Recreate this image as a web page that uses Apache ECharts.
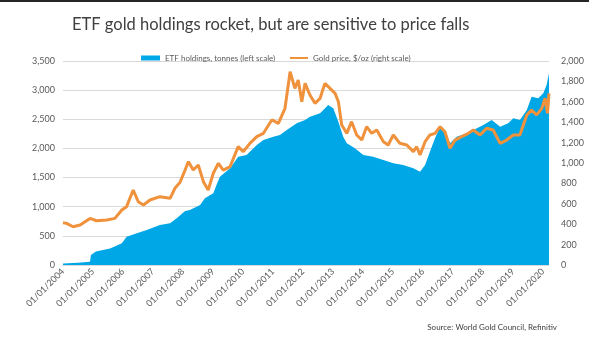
<!DOCTYPE html>
<html>
<head>
<meta charset="utf-8">
<script src="https://cdn.jsdelivr.net/npm/echarts@6/dist/echarts.min.js"></script>
<style>
  html, body { margin: 0; padding: 0; background: #ffffff; }
  #chart { width: 589px; height: 348px; }
</style>
</head>
<body>
<div id="chart"></div>
<script>
// ETF gold holdings (tonnes), dated as decimal years
const etfDates = [2004.0, 2004.5, 2004.9, 2004.93, 2005.1, 2005.57, 2005.96, 2006.12, 2006.46, 2006.79,
  2007.23, 2007.57, 2007.79, 2008.07, 2008.23, 2008.57, 2008.73, 2009.01, 2009.1, 2009.23,
  2009.57, 2009.84, 2010.12, 2010.46, 2010.68, 2011.01, 2011.23, 2011.46, 2011.79, 2012.07,
  2012.23, 2012.57, 2012.84, 2013.01, 2013.18, 2013.34, 2013.46, 2013.73, 2014.01, 2014.34,
  2014.68, 2015.01, 2015.34, 2015.68, 2015.9, 2015.95, 2016.07, 2016.23, 2016.4, 2016.57,
  2016.73, 2016.9, 2017.12, 2017.46, 2017.68, 2018.01, 2018.29, 2018.57, 2018.84, 2019.01,
  2019.23, 2019.46, 2019.62, 2019.84, 2020.01, 2020.12, 2020.2];
const etfTonnes = [25, 40, 57, 170, 230, 285, 372, 486, 544, 600,
  686, 715, 800, 926, 944, 1029, 1144, 1230, 1350, 1515,
  1659, 1859, 1887, 2059, 2145, 2201, 2230, 2316, 2430, 2488,
  2545, 2602, 2745, 2688, 2459, 2201, 2087, 2002, 1887, 1859,
  1801, 1745, 1716, 1659, 1601, 1580, 1716, 1944, 2173, 2373,
  2316, 2087, 2201, 2259, 2316, 2402, 2488, 2373, 2430, 2516,
  2488, 2659, 2888, 2860, 2945, 3088, 3289];

// Gold price ($/oz), dated as decimal years
const goldDates = [2004.0, 2004.12, 2004.34, 2004.57, 2004.9, 2005.12, 2005.46, 2005.73, 2005.96, 2006.12,
  2006.34, 2006.51, 2006.68, 2006.9, 2007.23, 2007.57, 2007.73, 2007.9, 2008.07, 2008.18,
  2008.34, 2008.51, 2008.68, 2008.84, 2009.01, 2009.18, 2009.34, 2009.57, 2009.84, 2010.01,
  2010.23, 2010.46, 2010.68, 2010.96, 2011.18, 2011.4, 2011.57, 2011.73, 2011.84, 2011.96,
  2012.07, 2012.23, 2012.4, 2012.57, 2012.73, 2012.9, 2013.07, 2013.18, 2013.29, 2013.46,
  2013.62, 2013.79, 2013.96, 2014.12, 2014.29, 2014.46, 2014.68, 2014.84, 2015.01, 2015.23,
  2015.46, 2015.68, 2015.79, 2015.9, 2016.07, 2016.23, 2016.4, 2016.57, 2016.73, 2016.9,
  2017.07, 2017.29, 2017.51, 2017.68, 2017.9, 2018.12, 2018.34, 2018.57, 2018.79, 2019.01,
  2019.23, 2019.46, 2019.62, 2019.79, 2019.96, 2020.07, 2020.15, 2020.2];
const goldPrice = [415, 408, 375, 392, 457, 434, 441, 457, 539, 572,
  735, 620, 588, 637, 670, 654, 752, 810, 931, 1013,
  931, 980, 817, 735, 900, 997, 931, 964, 1160, 1111,
  1193, 1258, 1291, 1422, 1389, 1536, 1895, 1732, 1814, 1601,
  1781, 1667, 1585, 1634, 1781, 1732, 1683, 1601, 1373, 1291,
  1405, 1275, 1225, 1356, 1291, 1324, 1209, 1176, 1275, 1193,
  1176, 1111, 1160, 1078, 1209, 1275, 1291, 1356, 1307, 1144,
  1225, 1258, 1291, 1324, 1275, 1340, 1324, 1193, 1225, 1275,
  1275, 1471, 1520, 1471, 1536, 1634, 1487, 1683];

const yearTicks = [2004, 2005, 2006, 2007, 2008, 2009, 2010, 2011, 2012, 2013,
  2014, 2015, 2016, 2017, 2018, 2019, 2020];

const etfName = 'ETF holdings, tonnes (left scale)';
const goldName = 'Gold price, $/oz (right scale)';
const FONT = "Lato, 'Open Sans', sans-serif";
const GREY = '#595959';

const chart = echarts.init(document.getElementById('chart'), null, { renderer: 'canvas' });

chart.setOption({
  animation: false,
  backgroundColor: '#ffffff',
  textStyle: { fontFamily: FONT },
  title: {
    text: 'ETF gold holdings rocket, but are sensitive to price falls',
    left: 67,
    top: 11,
    textStyle: { fontFamily: FONT, fontSize: 16.5, fontWeight: 'normal', color: '#404040' }
  },
  legend: [
    {
      data: [{ name: etfName, icon: 'rect' }],
      left: 136, top: 49,
      itemWidth: 19, itemHeight: 5,
      textStyle: { fontFamily: FONT, fontSize: 8, color: GREY }
    },
    {
      data: [{ name: goldName, icon: 'rect' }],
      left: 285, top: 49,
      itemWidth: 18, itemHeight: 2,
      textStyle: { fontFamily: FONT, fontSize: 8, color: GREY }
    }
  ],
  grid: { left: 63, right: 40, top: 61, bottom: 83, containLabel: false },
  xAxis: {
    type: 'value',
    min: 2004,
    max: 2020.2,
    interval: 1,
    axisLine: { show: true, lineStyle: { color: '#d9d9d9' } },
    axisTick: { show: false },
    splitLine: { show: false },
    axisLabel: {
      rotate: 45,
      margin: 5,
      fontFamily: FONT,
      fontSize: 9,
      color: GREY,
      showMaxLabel: false,
      formatter: function (v) {
        return yearTicks.indexOf(v) >= 0 ? '01/01/' + v : '';
      }
    }
  },
  yAxis: [
    {
      type: 'value',
      min: 0, max: 3500, interval: 500,
      axisLine: { show: false },
      axisTick: { show: false },
      splitLine: { lineStyle: { color: '#d9d9d9', width: 1 } },
      axisLabel: {
        margin: 8,
        fontFamily: FONT, fontSize: 9, color: GREY,
        formatter: function (v) { return v.toLocaleString('en-US'); }
      }
    },
    {
      type: 'value',
      min: 0, max: 2000, interval: 200,
      axisLine: { show: false },
      axisTick: { show: false },
      splitLine: { show: false },
      axisLabel: {
        margin: 12,
        fontFamily: FONT, fontSize: 9, color: GREY,
        formatter: function (v) { return v.toLocaleString('en-US'); }
      }
    }
  ],
  series: [
    {
      name: etfName,
      type: 'line',
      yAxisIndex: 0,
      data: etfDates.map((d, i) => [d, etfTonnes[i]]),
      showSymbol: false,
      lineStyle: { width: 0 },
      itemStyle: { color: '#00A7E6' },
      areaStyle: { color: '#00A7E6', opacity: 1 },
      z: 2
    },
    {
      name: goldName,
      type: 'line',
      yAxisIndex: 1,
      data: goldDates.map((d, i) => [d, goldPrice[i]]),
      showSymbol: false,
      lineStyle: { width: 3, color: '#F0913C' },
      itemStyle: { color: '#F0913C' },
      z: 3
    }
  ],
  graphic: [
    {
      type: 'rect',
      shape: { x: 0, y: 0, width: 589, height: 2 },
      style: { fill: '#262626' }
    },
    {
      type: 'text',
      right: 32,
      top: 323,
      style: {
        text: 'Source: World Gold Council, Refinitiv',
        fontFamily: FONT, fontSize: 8, fill: '#404040'
      }
    }
  ]
});
</script>
</body>
</html>
